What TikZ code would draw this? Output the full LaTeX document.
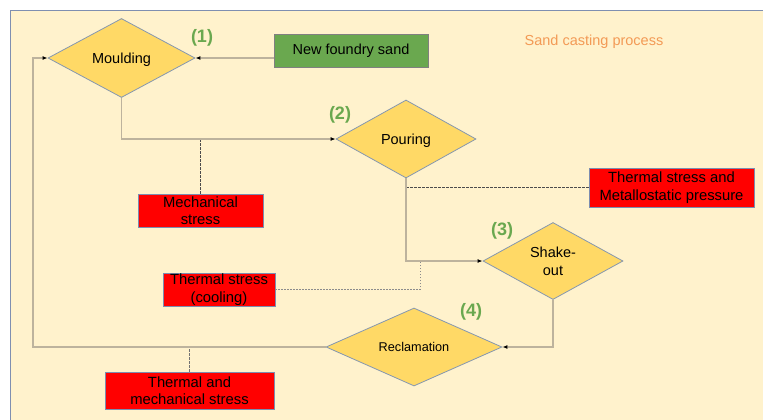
\documentclass[tikz,border=0pt]{standalone}
\usepackage{fontspec}
\setmainfont{Liberation Sans}
\usetikzlibrary{shapes.geometric,arrows.meta}
\definecolor{panelbg}{HTML}{FFF2CC}
\definecolor{panelborder}{HTML}{7F8FB0}
\definecolor{stepfill}{HTML}{FFD966}
\definecolor{stepborder}{HTML}{8497B0}
\definecolor{sandgreen}{HTML}{6AA84F}
\definecolor{labelgreen}{HTML}{6AA84F}
\definecolor{flowcol}{HTML}{BDB39D}
\definecolor{titleorange}{HTML}{F39A55}
\definecolor{redborder}{HTML}{7C8DB0}
\tikzset{
  x=1pt, y=-1pt,
  stepnode/.style={diamond, aspect=2, draw=stepborder, fill=stepfill, line width=0.8pt,
    inner sep=0pt, align=center, text depth=0pt, font=\fontsize{14.5}{17.5}\selectfont},
  redbox/.style={rectangle, draw=redborder, fill=red, line width=0.8pt, inner sep=0pt,
    align=center, font=\fontsize{14.8}{17.5}\selectfont},
  greenbox/.style={rectangle, draw=gray, fill=sandgreen, line width=0.8pt, inner sep=0pt,
    align=center, font=\fontsize{14.5}{17.5}\selectfont},
  steplabel/.style={text=labelgreen, font=\fontsize{18}{20}\selectfont\bfseries, inner sep=0pt},
  flow/.style={draw=flowcol, line width=1.2pt, -{Latex[color=black,length=5pt,width=4pt]}},
  stressline/.style={draw=black!70, line width=0.9pt, dash pattern=on 2.5pt off 1.5pt},
  lightstress/.style={draw=black!45, line width=0.8pt, dash pattern=on 1.5pt off 1.5pt},
}
\begin{document}
\begin{tikzpicture}
\useasboundingbox (0,0) rectangle (763,420);
\fill[white] (0,0) rectangle (763,420);
\fill[panelbg] (10,11) rectangle (763,420);
\draw[panelborder, line width=1pt] (10,420) -- (10,11) -- (763,11);

% steps
\node[stepnode, minimum width=147pt, minimum height=79pt] (mould) at (121.5,58) {Moulding};
\node[stepnode, minimum width=140pt, minimum height=78pt] (pour) at (406,139) {Pouring};
\node[stepnode, minimum width=140pt, minimum height=77pt] (shake) at (553,261) {Shake-\\out};
\node[stepnode, minimum width=176pt, minimum height=78pt, font=\fontsize{12.7}{15}\selectfont] (recl) at (414,347) {Reclamation};

% boxes
\node[greenbox, minimum width=154pt, minimum height=33pt] (sand) at (351,50.5) {New foundry sand};
\node[redbox, minimum width=125pt, minimum height=33pt] (mech) at (200.5,210.5) {Mechanical\\stress};
\node[redbox, minimum width=165pt, minimum height=39pt] (metal) at (671.5,187.5) {Thermal stress and\\Metallostatic pressure};
\node[redbox, minimum width=112pt, minimum height=33pt] (cool) at (219,289.5) {Thermal stress\\(cooling)};
\node[redbox, minimum width=169pt, minimum height=37pt] (tm) at (189.5,390.5) {Thermal and\\mechanical stress};

% labels
\node[steplabel] (l1) at (202,38) {(1)};
\node[steplabel] (l2) at (340,115) {(2)};
\node[steplabel] (l3) at (502,231) {(3)};
\node[steplabel] (l4) at (471,312) {(4)};
\node[text=titleorange, font=\fontsize{14.5}{17}\selectfont, inner sep=0pt] (title) at (594,42) {Sand casting process};

% stress connectors
\draw[stressline] (mech.north) -- (mech.north |- pour.west);
\draw[stressline] (metal.west) -- (metal.west -| pour.south);
\coordinate (cj) at (420,261);
\draw[lightstress] (cool.east) -| (cj);
\draw[stressline, draw=black!55] (tm.north) -- (tm.north |- recl.west);

% flow connectors
\coordinate (lp) at (33,347);
\draw[flow] (sand.west |- mould.east) -- (mould.east);
\draw[flow] (mould.south) |- (pour.west);
\draw[flow] (pour.south) |- (shake.west);
\draw[flow] (shake.south) |- (recl.east);
\draw[flow] (recl.west) -- (lp) |- (mould.west);
\end{tikzpicture}
\end{document}
